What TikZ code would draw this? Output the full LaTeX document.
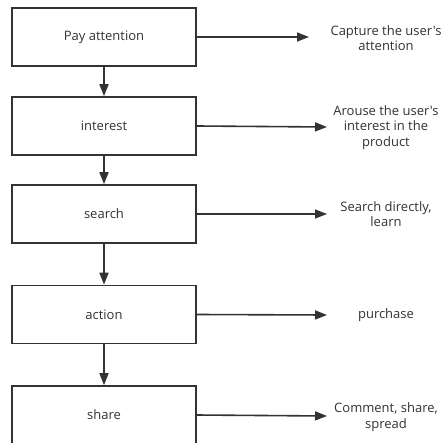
\documentclass[tikz,border=0pt]{standalone}
\usepackage{fontspec}
\setmainfont{Open Sans}
\newfontfamily\notefont{Open Sans}
\usetikzlibrary{arrows.meta}
\definecolor{ink}{HTML}{333333}
\begin{document}
\begin{tikzpicture}[x=1pt,y=-1pt,
  stage/.style={draw=ink,line width=1.6pt,minimum width=184pt,minimum height=58pt,inner sep=0pt,text=ink,font=\notefont\fontsize{13}{15}\selectfont},
  note/.style={align=center,text=ink,inner sep=0pt,font=\notefont\fontsize{13}{15.5}\selectfont},
  flow/.style={draw=ink,line width=1.6pt,-{Triangle[length=12pt,width=9pt]}}]
\useasboundingbox[fill=white] (0,0) rectangle (443,443);
\begin{scope}
\clip (0,0) rectangle (443,443);
\node[stage] (s1) at (104,37) {Pay attention};
\node[stage] (s2) at (104,126) {interest};
\node[stage] (s3) at (104,214) {search};
\node[stage] (s4) at (104,314.5) {action};
\node[stage] (s5) at (104,415) {share};
\end{scope}
\node[note] (n1) at (386,38) {Capture the user's\\attention};
\node[note] (n2) at (386,127.5) {Arouse the user's\\interest in the\\product};
\node[note] (n3) at (386,214) {Search directly,\\learn};
\node[note] (n4) at (386,315) {purchase};
\node[note] (n5) at (386,417) {Comment, share,\\spread};
\coordinate (e1) at (309,37);
\coordinate (e2) at (327,127);
\coordinate (e3) at (327,214);
\coordinate (e4) at (327,315);
\coordinate (e5) at (327,416);
\draw[flow] (s1.east) -- (e1);
\draw[flow] (s2.east) -- (e2);
\draw[flow] (s3.east) -- (e3);
\draw[flow] (s4.east) -- (e4);
\draw[flow] (s5.east) -- (e5);
\draw[flow] (s1) -- (s2);
\draw[flow] (s2) -- (s3);
\draw[flow] (s3) -- (s4);
\draw[flow] (s4) -- (s5);
\end{tikzpicture}
\end{document}
